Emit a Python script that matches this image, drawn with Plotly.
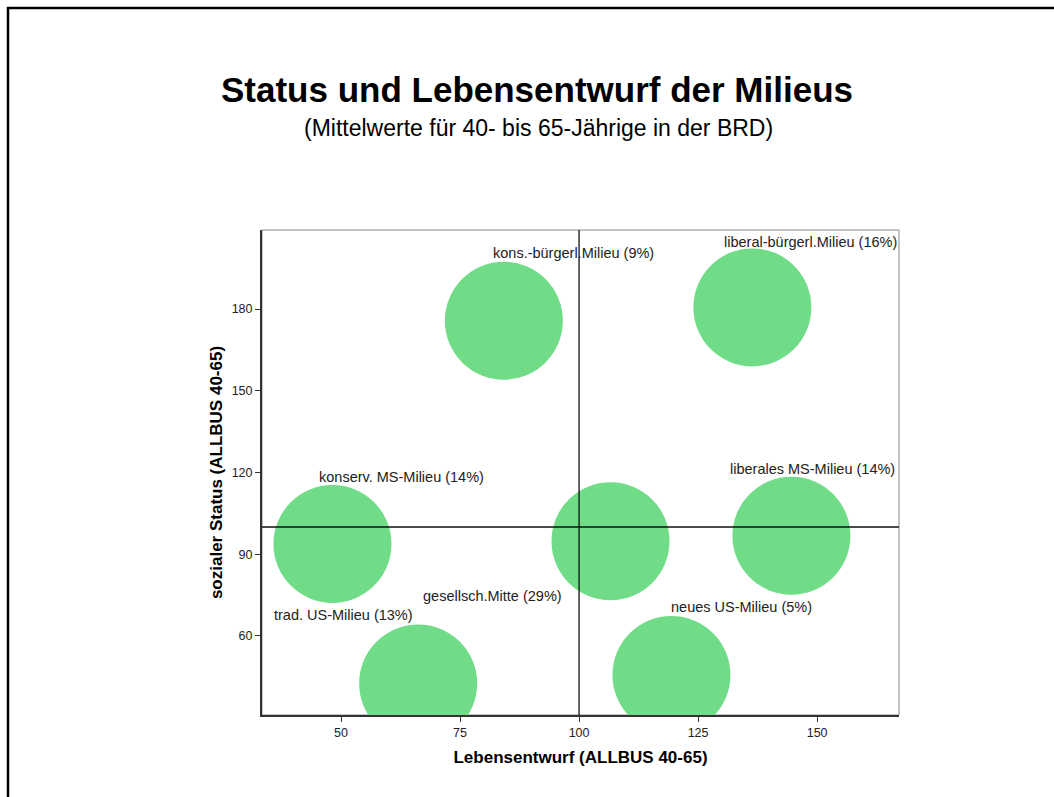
import plotly.graph_objects as go

# ---- data ----
milieus = [
    "kons.-bürgerl.Milieu (9%)",
    "liberal-bürgerl.Milieu (16%)",
    "konserv. MS-Milieu (14%)",
    "gesellsch.Mitte (29%)",
    "liberales MS-Milieu (14%)",
    "trad. US-Milieu (13%)",
    "neues US-Milieu (5%)",
]
lebensentwurf = [84.2, 136.4, 48.2, 106.6, 144.6, 66.2, 119.4]
sozialer_status = [175.7, 180.6, 93.8, 94.8, 96.8, 42.6, 45.7]

# label anchor positions (data coordinates, left edge / vertical middle)
label_x = [81.5, 130.0, 45.0, 66.8, 131.3, 35.5, 118.9]
label_y = [200.6, 204.6, 118.3, 74.7, 121.3, 67.7, 70.6]

x_ticks = [50, 75, 100, 125, 150]
y_ticks = [60, 90, 120, 150, 180]
ref_x = 100
ref_y = 100

# ---- layout geometry (pixels) ----
W, H = 1054, 797
L, R, T, B = 262, 899, 230, 715
pw, ph = R - L, B - T


def px_to_paper_x(px):
    return (px - L) / pw


def py_to_paper_y(py):
    return 1 + (T - py) / ph


green = "rgb(112,220,135)"
FONT = "Liberation Sans, Arial, sans-serif"

fig = go.Figure()
fig.add_trace(go.Scatter(
    x=lebensentwurf, y=sozialer_status, mode="markers",
    marker=dict(size=118, color=green, line=dict(width=0), opacity=1),
    cliponaxis=True, hoverinfo="text", text=milieus, showlegend=False,
))

annotations = []
for name, lx, ly in zip(milieus, label_x, label_y):
    annotations.append(dict(
        x=lx, y=ly, xref="x", yref="y", text=name, showarrow=False,
        xanchor="left", yanchor="middle",
        font=dict(family=FONT, size=14.5, color="#222"),
    ))

# subtitle
annotations.append(dict(
    x=px_to_paper_x(538), y=py_to_paper_y(127.5), xref="paper", yref="paper",
    text="(Mittelwerte für 40- bis 65-Jährige in der BRD)", showarrow=False,
    xanchor="center", yanchor="middle",
    font=dict(family=FONT, size=23, color="#000"),
))

shapes = [
    # thin frame around plot area (top/right visible)
    dict(type="rect", xref="paper", yref="paper", x0=0, x1=1, y0=0, y1=1,
         line=dict(color="#8a8a8a", width=1), layer="below"),
    # reference lines
    dict(type="line", xref="x", yref="paper", x0=ref_x, x1=ref_x, y0=0, y1=1,
         line=dict(color="#111", width=1.3)),
    dict(type="line", xref="paper", yref="y", x0=0, x1=1, y0=ref_y, y1=ref_y,
         line=dict(color="#111", width=1.3)),
    # outer page border (top and left)
    dict(type="line", xref="paper", yref="paper",
         x0=px_to_paper_x(7), x1=px_to_paper_x(1070),
         y0=py_to_paper_y(8), y1=py_to_paper_y(8),
         line=dict(color="#000", width=2.5)),
    dict(type="line", xref="paper", yref="paper",
         x0=px_to_paper_x(8), x1=px_to_paper_x(8),
         y0=py_to_paper_y(7), y1=py_to_paper_y(820),
         line=dict(color="#000", width=2.5)),
]

fig.update_layout(
    width=W, height=H,
    margin=dict(l=L, r=W - R, t=T, b=H - B, pad=0),
    paper_bgcolor="white", plot_bgcolor="white",
    title=dict(text="<b>Status und Lebensentwurf der Milieus</b>",
               xref="container", yref="container",
               x=537 / W, y=1 - 90 / H, xanchor="center", yanchor="middle",
               font=dict(family=FONT, size=35, color="#000")),
    xaxis=dict(range=[33.4, 167.2], tickvals=x_ticks, ticks="outside",
               ticklen=5, tickwidth=1, tickcolor="#333",
               showgrid=False, zeroline=False, showline=True,
               linecolor="#333", linewidth=2,
               tickfont=dict(family=FONT, size=12.5, color="#222"),
               title=dict(text="<b>Lebensentwurf (ALLBUS 40-65)</b>",
                          font=dict(family=FONT, size=17, color="#000"),
                          standoff=12)),
    yaxis=dict(range=[31.0, 209.0], tickvals=y_ticks, ticks="outside",
               ticklen=5, tickwidth=1, tickcolor="#333",
               showgrid=False, zeroline=False, showline=True,
               linecolor="#333", linewidth=2,
               tickfont=dict(family=FONT, size=12.5, color="#222"),
               title=dict(text="<b>sozialer Status (ALLBUS 40-65)</b>",
                          font=dict(family=FONT, size=17, color="#000"),
                          standoff=5)),
    annotations=annotations,
    shapes=shapes,
    showlegend=False,
)

fig.write_html("out.html",
               config={"displayModeBar": False},
               post_script="document.body.style.margin='0';"
                           "document.body.style.overflow='hidden';")
